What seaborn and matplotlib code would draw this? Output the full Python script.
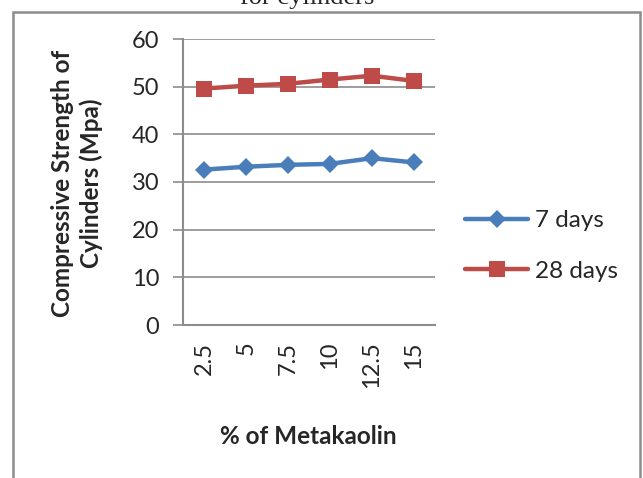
import matplotlib
matplotlib.use("Agg")
import matplotlib.pyplot as plt
import seaborn as sns
import pandas as pd
from matplotlib.patches import Rectangle

categories = ["2.5", "5", "7.5", "10", "12.5", "15"]
days7 = [32.6, 33.2, 33.6, 33.8, 35.0, 34.1]
days28 = [49.6, 50.2, 50.6, 51.5, 52.3, 51.2]
series_names = ["7 days", "28 days"]
yticks = [0, 10, 20, 30, 40, 50, 60]

sns.set_theme(style="white")
plt.rcParams['font.family'] = ['Lato', 'DejaVu Sans']

df = pd.DataFrame({
    "metakaolin": categories * 2,
    "strength": days7 + days28,
    "series": [series_names[0]] * len(categories) + [series_names[1]] * len(categories),
})

fig = plt.figure(figsize=(6.43, 4.78), dpi=100)
ax = fig.add_axes([183/643, 1 - 325/478, 252/643, 286/478])

palette = {"7 days": "#4A7EBB", "28 days": "#BE4B48"}
markers = {"7 days": "D", "28 days": "s"}
sizes_m = {"7 days": 9.5, "28 days": 11.5}
for name in series_names:
    sub = df[df["series"] == name]
    sns.lineplot(data=sub, x="metakaolin", y="strength", ax=ax, color=palette[name],
                 marker=markers[name], markersize=sizes_m[name], markeredgewidth=0,
                 linewidth=3.2, label=name, sort=False)

ax.set_xlim(-0.5, len(categories) - 0.5)
ax.set_ylim(0, 60)
ax.set_yticks(yticks)
ax.set_yticklabels([str(t) for t in yticks], fontsize=17)
ax.set_xticks(range(len(categories)))
ax.set_xticklabels(categories, rotation=90, fontsize=17)
ax.tick_params(axis="x", length=0, pad=12)
ax.tick_params(axis="y", length=7, width=1.2, color="#8c8c8c", left=True, pad=10)
ax.yaxis.grid(True, color="#8c8c8c", linewidth=1.2)
ax.xaxis.grid(False)
for s in ["top", "right"]:
    ax.spines[s].set_visible(False)
for s in ["left", "bottom"]:
    ax.spines[s].set_color("#8c8c8c")
    ax.spines[s].set_linewidth(1.5)
ax.set_xlabel("")
ax.set_ylabel("")

leg = ax.legend(loc="center left", bbox_to_anchor=(465/643, 1 - 246/478),
                bbox_transform=fig.transFigure, frameon=False, fontsize=17.5,
                handlelength=2.6, handletextpad=0.3, labelspacing=1.2, borderpad=0,
                borderaxespad=0)

fig.text(77/643, 1 - 183/478, "Compressive Strength of\nCylinders (Mpa)", rotation=90,
         ha="center", va="center", fontsize=17.5, fontweight="bold", linespacing=1.25)
fig.text(308/643, 1 - 437/478, "% of Metakaolin", ha="center", va="center",
         fontsize=17.5, fontweight="bold")
fig.text(307/643, 1 - 4/478, "for cylinders", ha="center", va="baseline",
         fontsize=19, family=["Liberation Serif", "DejaVu Serif"])

fig.patches.append(Rectangle((13/643, -0.05), 627/643, 1.05 - 12/478, transform=fig.transFigure,
                             fill=False, edgecolor="#8c8c8c", linewidth=1.8))

fig.savefig("out.png", dpi=100)
